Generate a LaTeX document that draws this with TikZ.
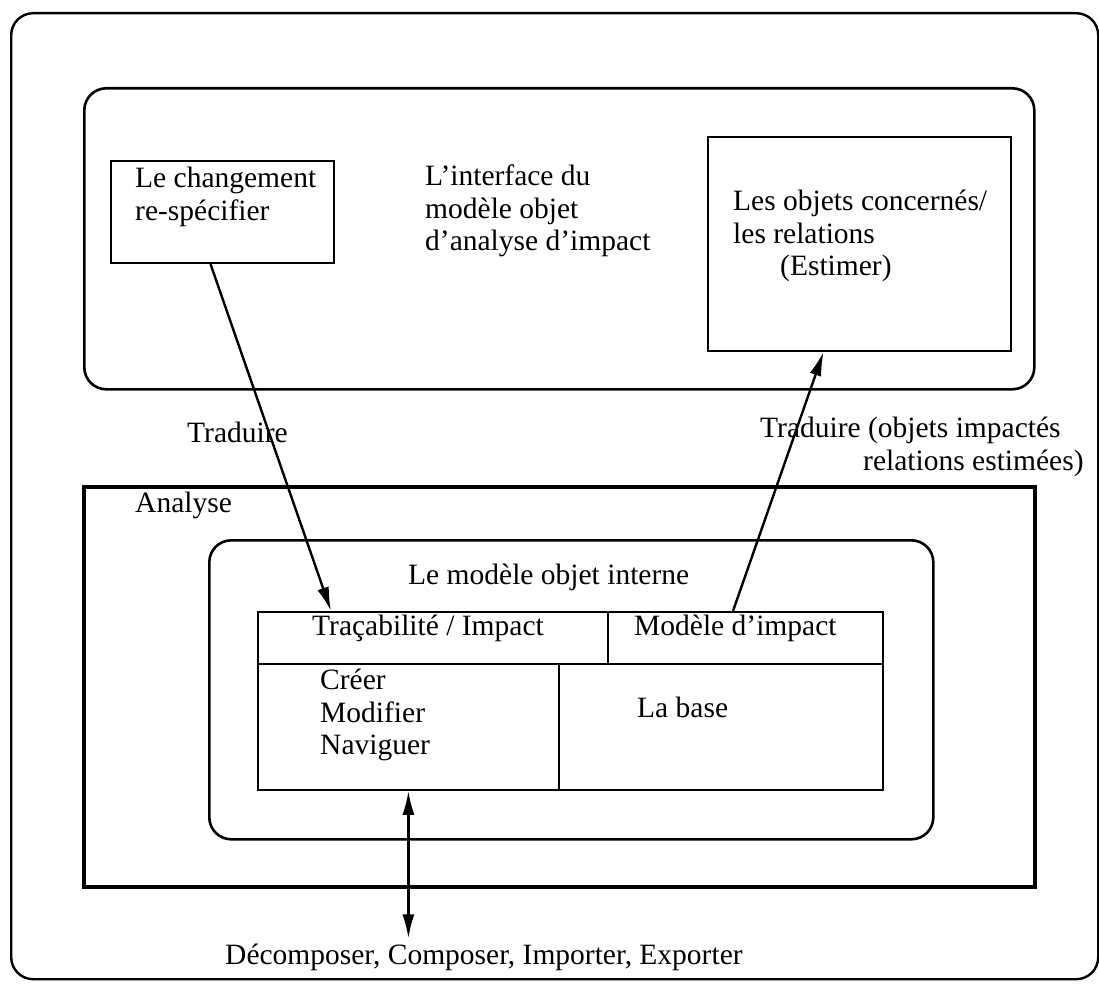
\documentclass[tikz,border=0pt]{standalone}
\usepackage{fontspec}
\setmainfont{Liberation Serif}
\usetikzlibrary{arrows.meta,calc}
\begin{document}
\begin{tikzpicture}[x=1pt,y=-1pt,
  txt/.style={inner sep=0pt,anchor=west,align=left,font=\fontsize{29.5}{32.5}\selectfont},
  rbox/.style={draw,rounded corners=22pt,line width=2.6pt,anchor=north west,inner sep=0pt},
  pbox/.style={draw,line width=2pt,anchor=north west,inner sep=0pt},
  cell/.style={draw,line width=1.8pt,anchor=north west,inner sep=0pt},
  tip/.tip={Latex[length=24pt,width=12pt]},
  link/.style={line width=2.4pt,-tip},
  twoway/.style={line width=2.4pt,tip-tip}]
\useasboundingbox (0,0) rectangle (1099,984);

% frames
\node[rbox,line width=2.4pt,minimum width=1087pt,minimum height=966pt] (outer) at (10,12) {};
\node[rbox,minimum width=950pt,minimum height=301pt] (iface) at (83,87) {};
\node[draw,line width=4.2pt,anchor=north west,inner sep=0pt,minimum width=951pt,minimum height=400pt] (analyse) at (82,485) {};
\node[rbox,minimum width=724pt,minimum height=299pt] (interne) at (208,539) {};

% boxes of the interface
\node[pbox,minimum width=223pt,minimum height=102pt] (chg) at (110,160) {};
\node[pbox,minimum width=303pt,minimum height=214pt] (obj) at (707,136) {};

% table of the internal model
\node[cell,minimum width=350pt,minimum height=52pt] (trac) at (257,611) {};
\node[cell,minimum width=275pt,minimum height=52pt] (mimp) at (607,611) {};
\node[cell,minimum width=301pt,minimum height=126pt] (ops) at (257,663) {};
\node[cell,minimum width=324pt,minimum height=126pt] (base) at (558,663) {};

% texts
\node[txt] (tchg) at (135,197) {Le changement\\re-spécifier};
\node[txt] (tif) at (425,211) {L’interface du\\modèle objet\\d’analyse d’impact};
\node[txt] (tobj) at (733,236) {Les objets concernés/\\les relations\\\hspace*{47pt}(Estimer)};
\node[txt] (trad1) at (187,432) {Traduire};
\node[txt] (trad2) at (760,447) {Traduire (objets impactés\\\hspace*{103pt}relations estimées)};
\node[txt] (tana) at (135,505) {Analyse};
\node[txt] (tint) at (408,577) {Le modèle objet interne};
\node[txt] (ttrac) at (312,628) {Traçabilité / Impact};
\node[txt] (tmimp) at (634,628) {Modèle d’impact};
\node[txt] (tops) at (320,715) {Créer\\Modifier\\Naviguer};
\node[txt] (tbase) at (637,707) {La base};
\node[txt] (dec) at (225,957) {Décomposer, Composer, Importer, Exporter};

% connectors
\draw[link] ($(chg.south)+(-12,0)$) -- ($(trac.north west)+(74,0)$);
\draw[link] ($(mimp.north west)+(126,0)$) -- ($(obj.south)+(-36,0)$);
\draw[twoway] (ops.south) -- ($(ops.south |- dec.north)+(0,-5)$);
\end{tikzpicture}
\end{document}
